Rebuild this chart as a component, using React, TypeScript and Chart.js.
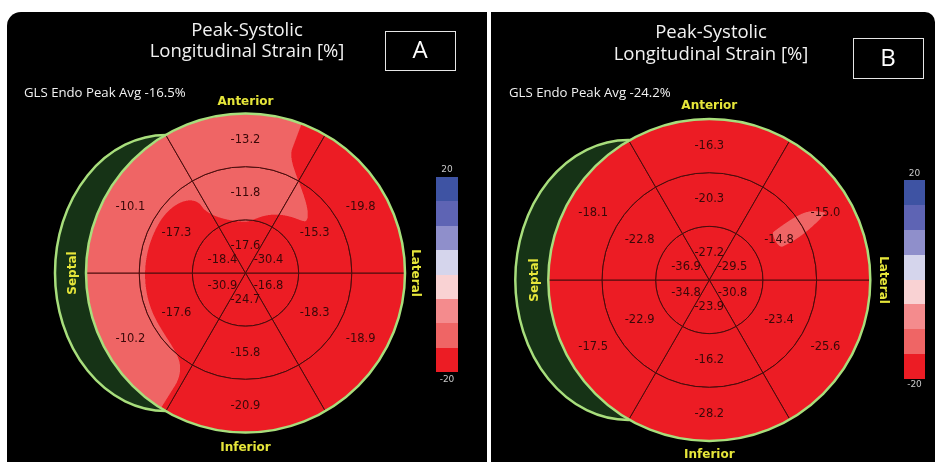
import React, { useEffect, useRef } from "react";
import { Chart, registerables } from "chart.js";

Chart.register(...registerables);

// Segment order follows the slices clockwise from 3 o'clock
const segments = ["Inferolateral", "Inferior", "Inferoseptal", "Anteroseptal", "Anterior", "Anterolateral"];

// Panel A values (%)
const aBasal = [-18.9, -20.9, -10.2, -10.1, -13.2, -19.8];
const aMid = [-18.3, -15.8, -17.6, -17.3, -11.8, -15.3];
const aApical = [-16.8, -24.7, -30.9, -18.4, -17.6, -30.4];

// Panel B values (%)
const bBasal = [-25.6, -28.2, -17.5, -18.1, -16.3, -15.0];
const bMid = [-23.4, -16.2, -22.9, -22.8, -20.3, -14.8];
const bApical = [-30.8, -23.9, -34.8, -36.9, -27.2, -29.5];

const titleLines = ["Peak-Systolic", "Longitudinal Strain [%]"];
const glsA = "GLS Endo Peak Avg -16.5%";
const glsB = "GLS Endo Peak Avg -24.2%";
const directions = ["Anterior", "Inferior", "Septal", "Lateral"];
const scaleTicks = ["20", "-20"];
const scaleMin = -20;
const scaleStep = 5;
// colour bands from -20 up to 20
const bandColors = ["#ec1c24", "#ef6565", "#f48b8d", "#f9d2d3", "#d5d5ec", "#8f8fcb", "#5e64b4", "#3e53a3"];

function hexToRgb(h: string) {
  const n = parseInt(h.slice(1), 16);
  return [(n >> 16) & 255, (n >> 8) & 255, n & 255];
}
const bandRgb = bandColors.map(hexToRgb);

function bandIndex(v: number) {
  let i = Math.floor((v - scaleMin) / scaleStep + 1e-9);
  if (i < 0) i = 0;
  if (i > bandColors.length - 1) i = bandColors.length - 1;
  return i;
}

const smooth = (t: number) => t * t * (3 - 2 * t);

// rings: [apical, mid, basal]
function fieldValue(rings: number[][], r: number, deg: number, R: number) {
  const u = (deg - 30) / 60;
  const fl = Math.floor(u);
  const f = smooth(u - fl);
  const j0 = ((fl % 6) + 6) % 6;
  const j1 = (j0 + 1) % 6;
  const rv = (k: number) => rings[k][j0] * (1 - f) + rings[k][j1] * f;
  const rc = [R / 6, R / 2, (5 * R) / 6];
  if (r <= rc[0]) return rv(0);
  if (r >= rc[2]) return rv(2);
  if (r <= rc[1]) {
    const t = smooth((r - rc[0]) / (rc[1] - rc[0]));
    return rv(0) * (1 - t) + rv(1) * t;
  }
  const t = smooth((r - rc[1]) / (rc[2] - rc[1]));
  return rv(1) * (1 - t) + rv(2) * t;
}

const patternCache = new WeakMap<any, { key: string; pat: any }>();

function getPattern(chart: any, rings: number[][], R: number) {
  const area = chart.chartArea;
  if (!area) return bandColors[0];
  const cx = (area.left + area.right) / 2;
  const cy = (area.top + area.bottom) / 2;
  const key = cx + "," + cy + "," + R;
  const c = patternCache.get(chart);
  if (c && c.key === key) return c.pat;
  const W = chart.width;
  const H = chart.height;
  const off = document.createElement("canvas");
  off.width = W;
  off.height = H;
  const octx = off.getContext("2d")!;
  const img = octx.createImageData(W, H);
  const y0 = Math.max(0, Math.floor(cy - R - 2));
  const y1 = Math.min(H, Math.ceil(cy + R + 2));
  const x0 = Math.max(0, Math.floor(cx - R - 2));
  const x1 = Math.min(W, Math.ceil(cx + R + 2));
  const subs = [0.17, 0.5, 0.83];
  const ns = subs.length * subs.length;
  for (let y = y0; y < y1; y++) {
    for (let x = x0; x < x1; x++) {
      let rr = 0, gg = 0, bb = 0;
      for (const sy of subs) {
        for (const sx of subs) {
          const dx = x + sx - cx;
          const dy = y + sy - cy;
          const r = Math.sqrt(dx * dx + dy * dy);
          let deg = (Math.atan2(dy, dx) * 180) / Math.PI;
          if (deg < 0) deg += 360;
          const v = fieldValue(rings, r, deg, R);
          const col = bandRgb[bandIndex(v)];
          rr += col[0];
          gg += col[1];
          bb += col[2];
        }
      }
      const p = (y * W + x) * 4;
      img.data[p] = rr / ns;
      img.data[p + 1] = gg / ns;
      img.data[p + 2] = bb / ns;
      img.data[p + 3] = 255;
    }
  }
  octx.putImageData(img, 0, 0);
  const pat = chart.ctx.createPattern(off, "no-repeat");
  patternCache.set(chart, { key, pat });
  return pat;
}

type PanelLayout = {
  left: number; top: number; width: number; height: number;
  cx: number; cy: number; R: number;
  radius: string;
  titleX: number; titleY1: number; titleY2: number;
  box: [number, number, number, number];
  letter: string;
  gls: string; glsX: number; glsY: number;
  antY: number; infY: number; sepX: number; latX: number;
  bar: [number, number, number, number];
  tickTopY: number; tickBotY: number;
  ell: [number, number, number];
};

const layoutA: PanelLayout = {
  left: 7, top: 12, width: 480, height: 450,
  cx: 238.5, cy: 261, R: 159.5, radius: "14px 0 0 0",
  titleX: 240, titleY1: 19, titleY2: 40,
  box: [378, 19, 70, 39], letter: "A",
  gls: glsA, glsX: 17, glsY: 81,
  antY: 90, infY: 436, sepX: 66, latX: 408,
  bar: [429, 165, 22, 195], tickTopY: 158, tickBotY: 368,
  ell: [-79.5, 111, 138],
};

const layoutB: PanelLayout = {
  left: 491, top: 12, width: 444, height: 450,
  cx: 218.3, cy: 268, R: 161, radius: "0 10px 0 0",
  titleX: 220, titleY1: 21, titleY2: 43,
  box: [362, 26, 70, 40], letter: "B",
  gls: glsB, glsX: 18, glsY: 81,
  antY: 94, infY: 443, sepX: 44, latX: 392,
  bar: [413, 168, 21, 199], tickTopY: 162, tickBotY: 373,
  ell: [-81, 113, 140],
};

function Panel({ L, basal, mid, apical }: { L: PanelLayout; basal: number[]; mid: number[]; apical: number[] }) {
  const ref = useRef<HTMLCanvasElement>(null);
  useEffect(() => {
    if (!ref.current) return;
    const rings = [apical, mid, basal];
    const bg = (ctx: any) => getPattern(ctx.chart, rings, L.R);
    const pad = 163;
    const decor = {
      id: "decor",
      beforeDatasetsDraw(chart: any) {
        const ctx = chart.ctx;
        const a = chart.chartArea;
        const cx = (a.left + a.right) / 2;
        const cy = (a.top + a.bottom) / 2;
        ctx.save();
        ctx.beginPath();
        ctx.ellipse(cx + L.ell[0], cy, L.ell[1], L.ell[2], 0, 0, Math.PI * 2);
        ctx.fillStyle = "#163316";
        ctx.fill();
        ctx.lineWidth = 2.5;
        ctx.strokeStyle = "#a8de7c";
        ctx.stroke();
        ctx.restore();
      },
      afterDatasetsDraw(chart: any) {
        const ctx = chart.ctx;
        const a = chart.chartArea;
        const cx = (a.left + a.right) / 2;
        const cy = (a.top + a.bottom) / 2;
        ctx.save();
        // outer rim
        ctx.beginPath();
        ctx.arc(cx, cy, L.R, 0, Math.PI * 2);
        ctx.lineWidth = 2.5;
        ctx.strokeStyle = "#a8de7c";
        ctx.stroke();
        // segment values
        ctx.font = "11.5px 'DejaVu Sans'";
        ctx.fillStyle = "#3a0808";
        ctx.textAlign = "center";
        ctx.textBaseline = "middle";
        chart.data.datasets.forEach((ds: any, i: number) => {
          const meta = chart.getDatasetMeta(i);
          meta.data.forEach((arc: any, j: number) => {
            const p = arc.tooltipPosition();
            ctx.fillText(ds.strain[j].toFixed(1), p.x, p.y);
          });
        });
        // title
        ctx.fillStyle = "#f2f2f2";
        ctx.font = "18.5px 'Open Sans'";
        ctx.fillText(titleLines[0], L.titleX, L.titleY1);
        ctx.fillText(titleLines[1], L.titleX, L.titleY2);
        // letter box
        ctx.strokeStyle = "#e6e6e6";
        ctx.lineWidth = 1;
        ctx.strokeRect(L.box[0] + 0.5, L.box[1] + 0.5, L.box[2], L.box[3]);
        ctx.font = "24px 'Open Sans'";
        ctx.fillStyle = "#ffffff";
        ctx.fillText(L.letter, L.box[0] + L.box[2] / 2, L.box[1] + L.box[3] / 2 + 1);
        // GLS
        ctx.textAlign = "left";
        ctx.font = "13.2px 'Open Sans'";
        ctx.fillStyle = "#f2f2f2";
        ctx.fillText(L.gls, L.glsX, L.glsY);
        // directions
        ctx.textAlign = "center";
        ctx.font = "bold 12px 'DejaVu Sans'";
        ctx.fillStyle = "#e6e63a";
        ctx.fillText(directions[0], cx, L.antY);
        ctx.fillText(directions[1], cx, L.infY);
        ctx.save();
        ctx.translate(L.sepX, cy);
        ctx.rotate(-Math.PI / 2);
        ctx.fillText(directions[2], 0, 0);
        ctx.restore();
        ctx.save();
        ctx.translate(L.latX, cy);
        ctx.rotate(Math.PI / 2);
        ctx.fillText(directions[3], 0, 0);
        ctx.restore();
        // colour bar
        const n = bandColors.length;
        const bh = L.bar[3] / n;
        for (let k = 0; k < n; k++) {
          ctx.fillStyle = bandColors[k];
          const yTop = L.bar[1] + L.bar[3] - (k + 1) * bh;
          ctx.fillRect(L.bar[0], Math.round(yTop), L.bar[2], Math.round(yTop + bh) - Math.round(yTop));
        }
        ctx.font = "9px 'DejaVu Sans'";
        ctx.fillStyle = "#c8c8c8";
        ctx.fillText(scaleTicks[0], L.bar[0] + L.bar[2] / 2, L.tickTopY);
        ctx.fillText(scaleTicks[1], L.bar[0] + L.bar[2] / 2, L.tickBotY);
        ctx.restore();
      },
    };
    const chart = new Chart(ref.current, {
      type: "pie",
      data: {
        labels: segments,
        datasets: [basal, mid, apical].map((vals) => ({
          data: segments.map(() => 1),
          strain: vals,
          backgroundColor: bg,
          borderColor: "#4a0c0c",
          borderWidth: 1,
        })) as any,
      },
      options: {
        animation: false,
        responsive: false,
        events: [],
        rotation: 90,
        radius: L.R,
        layout: {
          padding: {
            left: L.cx - pad,
            right: L.width - L.cx - pad,
            top: L.cy - pad,
            bottom: L.height - L.cy - pad,
          },
        },
        plugins: {
          legend: { display: false },
          tooltip: { enabled: false },
          title: { display: false },
        },
      } as any,
      plugins: [decor],
    });
    return () => chart.destroy();
  }, []);
  return (
    <div
      style={{
        position: "absolute",
        left: L.left,
        top: L.top,
        width: L.width,
        height: L.height,
        background: "#000",
        borderRadius: L.radius,
        overflow: "hidden",
      }}
    >
      <canvas ref={ref} width={L.width} height={L.height} style={{ display: "block" }} />
    </div>
  );
}

export default function App() {
  return (
    <div>
      <Panel L={layoutA} basal={aBasal} mid={aMid} apical={aApical} />
      <Panel L={layoutB} basal={bBasal} mid={bMid} apical={bApical} />
    </div>
  );
}
